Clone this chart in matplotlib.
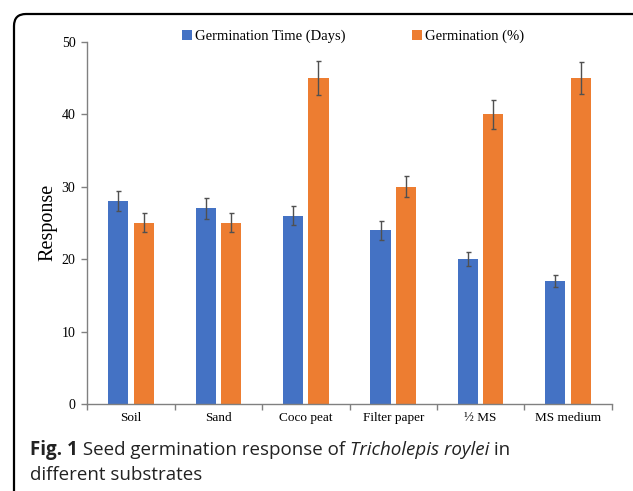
import matplotlib
matplotlib.use("Agg")
import matplotlib.pyplot as plt
import numpy as np
from matplotlib.patches import FancyBboxPatch
from matplotlib.transforms import IdentityTransform

categories = ["Soil", "Sand", "Coco peat", "Filter paper", "\u00bd MS", "MS medium"]
time_days = [28, 27, 26, 24, 20, 17]
time_err = [1.4, 1.4, 1.3, 1.3, 1.0, 0.85]
germ_pct = [25, 25, 45, 30, 40, 45]
germ_err = [1.3, 1.3, 2.3, 1.5, 2.0, 2.2]
series_names = ["Germination Time (Days)", "Germination (%)"]
y_ticks = [0, 10, 20, 30, 40, 50]

W, H = 633, 491
fig = plt.figure(figsize=(W / 100, H / 100), dpi=100)
serif = ["Liberation Serif", "DejaVu Serif"]

ax = fig.add_axes([87.3 / W, 1 - 404 / H, (611.7 - 87.3) / W, (404 - 41.7) / H])
x = np.arange(len(categories))
bw = 0.23
off = 0.145
blue = "#4472C4"
orange = "#ED7D31"
ekw = dict(ecolor="#505050", elinewidth=1.0, capsize=1.8, capthick=1.0)
b1 = ax.bar(x - off, time_days, bw, color=blue, yerr=time_err, error_kw=ekw, label=series_names[0])
b2 = ax.bar(x + off, germ_pct, bw, color=orange, yerr=germ_err, error_kw=ekw, label=series_names[1])

ax.set_xlim(-0.5, len(categories) - 0.5)
ax.set_ylim(0, 50)
ax.set_yticks(y_ticks)
ax.set_yticklabels([str(v) for v in y_ticks], fontfamily=serif, fontsize=10)
ax.set_xticks(x)
ax.set_xticklabels(categories, fontfamily=serif, fontsize=9.5)
ax.tick_params(axis="x", length=0, pad=6)
ax.set_xticks(np.arange(-0.5, len(categories) + 0.5, 1), minor=True)
ax.tick_params(axis="x", which="minor", length=4, color="#808080", width=1)
ax.tick_params(axis="y", length=4, color="#808080", width=1, pad=4.5)
for s in ["top", "right"]:
    ax.spines[s].set_visible(False)
for s in ["left", "bottom"]:
    ax.spines[s].set_color("#808080")
    ax.spines[s].set_linewidth(1.0)
ax.set_ylabel("Response", fontfamily=serif, fontsize=14.5, labelpad=3)

fig.legend(handles=[b1, b2], labels=series_names, loc="center", ncol=2,
           bbox_to_anchor=(353 / W, 1 - 36.7 / H), frameon=False,
           prop={"family": serif, "size": 10.5}, handlelength=0.7, handleheight=0.7,
           handletextpad=0.2, columnspacing=4.5)

# rounded border box
box = FancyBboxPatch((14, -30), W + 30 - 14, H - 14 + 30, boxstyle="round,pad=0,rounding_size=12",
                     transform=IdentityTransform(), fill=False, edgecolor="black", linewidth=1.6)
fig.patches.append(box)

# caption
cap_size = 13.5
sans = ["Open Sans", "DejaVu Sans"]
fig.canvas.draw()
r = fig.canvas.get_renderer()
xpos = 30
y1 = H - 455
parts = [("Fig. 1", "bold", "normal"), (" Seed germination response of ", "normal", "normal"),
         ("Tricholepis roylei", "normal", "italic"), (" in", "normal", "normal")]
for txt, wgt, sty in parts:
    t = fig.text(xpos, y1, txt, transform=IdentityTransform(), fontfamily=sans,
                 fontsize=cap_size, fontweight=wgt, fontstyle=sty, va="baseline", color="#222222")
    bb = t.get_window_extent(renderer=r)
    xpos = bb.x1
fig.text(30, H - 480, "different substrates", transform=IdentityTransform(), fontfamily=sans,
         fontsize=cap_size, va="baseline", color="#222222")

fig.savefig("out.png", dpi=100)
